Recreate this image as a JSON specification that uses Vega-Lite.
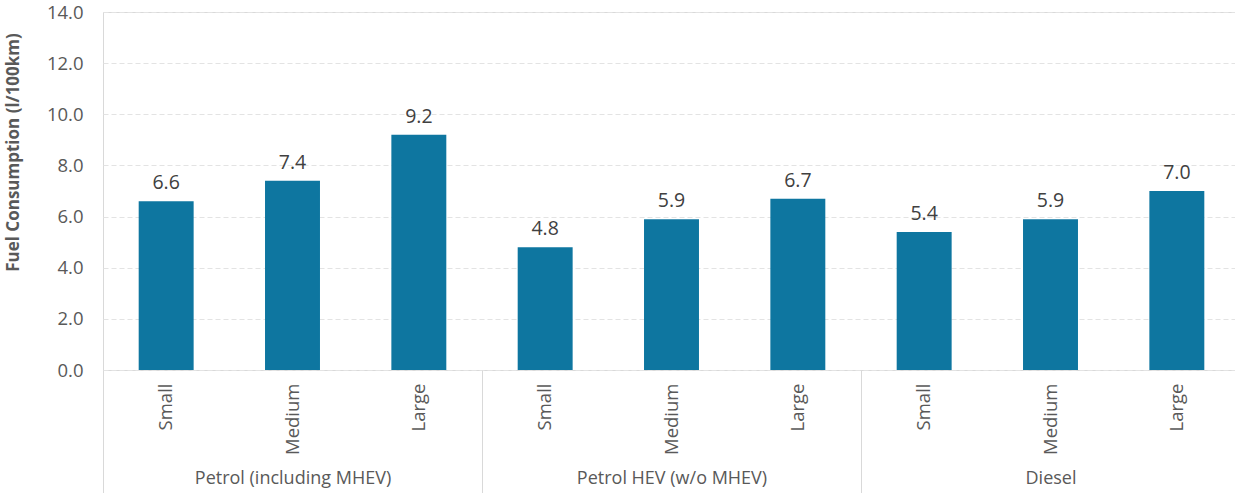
{
  "$schema": "https://vega.github.io/schema/vega-lite/v6.json",
  "width": 1137,
  "height": 358,
  "autosize": "none",
  "padding": {"left": 103, "top": 12, "right": 0, "bottom": 123},
  "config": {
    "font": "Open Sans",
    "view": {"stroke": "#d9d9d9", "strokeWidth": 1}
  },
  "data": {
    "values": [
      {"group": "Petrol (including MHEV)", "size": "Small", "cat": "P-Small", "value": 6.6},
      {"group": "Petrol (including MHEV)", "size": "Medium", "cat": "P-Medium", "value": 7.4},
      {"group": "Petrol (including MHEV)", "size": "Large", "cat": "P-Large", "value": 9.2},
      {"group": "Petrol HEV (w/o MHEV)", "size": "Small", "cat": "H-Small", "value": 4.8},
      {"group": "Petrol HEV (w/o MHEV)", "size": "Medium", "cat": "H-Medium", "value": 5.9},
      {"group": "Petrol HEV (w/o MHEV)", "size": "Large", "cat": "H-Large", "value": 6.7},
      {"group": "Diesel", "size": "Small", "cat": "D-Small", "value": 5.4},
      {"group": "Diesel", "size": "Medium", "cat": "D-Medium", "value": 5.9},
      {"group": "Diesel", "size": "Large", "cat": "D-Large", "value": 7.0}
    ]
  },
  "layer": [
    {
      "encoding": {
        "x": {
          "field": "cat",
          "type": "nominal",
          "sort": null,
          "scale": {"paddingInner": 0.565, "paddingOuter": 0.2825},
          "axis": {
            "title": null,
            "domain": false,
            "ticks": false,
            "labelAngle": 270,
            "labelPadding": 13,
            "labelFontSize": 18.5,
            "labelLimit": 0,
            "labelColor": "#595959",
            "labelExpr": "split(datum.label, '-')[1]"
          }
        },
        "y": {
          "field": "value",
          "type": "quantitative",
          "scale": {"domain": [0, 14]},
          "axis": {
            "values": [0, 2, 4, 6, 8, 10, 12, 14],
            "format": ".1f",
            "domain": false,
            "ticks": false,
            "labelPadding": 20,
            "labelFontSize": 18.5,
            "labelColor": "#595959",
            "gridColor": "#e3e3e3",
            "gridDash": [5, 3],
            "title": "Fuel Consumption (l/100km)",
            "titleFontSize": 17,
            "titleFontWeight": "bold",
            "titleColor": "#595959",
            "titlePadding": 24,
            "titleY": 140
          }
        }
      },
      "layer": [
        {"mark": {"type": "bar", "color": "#0e76a0"}},
        {
          "mark": {"type": "text", "dy": -18, "fontSize": 19.5, "color": "#404040"},
          "encoding": {"text": {"field": "value", "type": "quantitative", "format": ".1f"}}
        }
      ]
    },
    {
      "mark": {"type": "bar", "opacity": 0},
      "encoding": {
        "x": {
          "field": "group",
          "type": "nominal",
          "sort": null,
          "scale": {"paddingInner": 0, "paddingOuter": 0},
          "axis": {
            "orient": "bottom",
            "title": null,
            "domain": false,
            "ticks": true,
            "tickBand": "extent",
            "tickSize": 123,
            "tickColor": "#d9d9d9",
            "labelAngle": 0,
            "labelPadding": -24,
            "labelFontSize": 18,
            "labelLimit": 0,
            "labelColor": "#595959"
          }
        },
        "y": {"field": "value", "type": "quantitative"}
      }
    }
  ],
  "resolve": {"scale": {"x": "independent"}, "axis": {"x": "independent"}}
}
